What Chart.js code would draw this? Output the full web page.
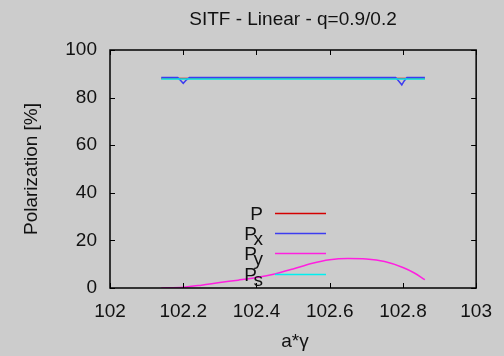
<!DOCTYPE html>
<html>
<head>
<meta charset="utf-8">
<script src="https://cdn.jsdelivr.net/npm/chart.js@4.4.0/dist/chart.umd.min.js"></script>
<style>
  html, body { margin: 0; padding: 0; background: #cccccc; }
  #wrap { width: 504px; height: 356px; }
</style>
</head>
<body>
<div id="wrap"><canvas id="polChart"></canvas></div>
<script>
// values
const xFlat = [102.14, 102.86];
const pTotal = [88.0, 88.0];
const pS = [87.8, 87.8];

const xPx = [102.14, 102.185, 102.193, 102.2, 102.207, 102.217, 102.78, 102.789, 102.797, 102.803, 102.811, 102.86];
const pX = [88.4, 88.4, 87.2, 86.0, 87.2, 88.4, 88.4, 86.9, 85.3, 86.9, 88.4, 88.4];

const xPy = [102.14, 102.2, 102.25, 102.3, 102.35, 102.4, 102.45, 102.5, 102.55, 102.6, 102.65, 102.7, 102.75, 102.8, 102.83, 102.86];
const pY = [0, 0.3, 1.2, 2.3, 3.3, 4.4, 5.9, 8.0, 10.3, 11.9, 12.4, 12.2, 11.1, 8.6, 6.4, 3.5];

const xTicks = [102, 102.2, 102.4, 102.6, 102.8, 103];
const yTicks = [0, 20, 40, 60, 80, 100];

const legendItems = [
    { main: "P", sub: "", color: "#d40000" },
    { main: "P", sub: "x", color: "#3c3cf0" },
    { main: "P", sub: "y", color: "#ff20e0" },
    { main: "P", sub: "s", color: "#00f0f0" }
];

const FONT = '"Liberation Sans", Arial, sans-serif';

function pts(xs, ys) {
    return xs.map(function(x, i) { return { x: x, y: ys[i] }; });
}

// frame, mirrored inner ticks, titles and the gnuplot style key
const decor = {
    id: 'decor',
    afterDraw: function(chart) {
        const ctx = chart.ctx;
        const a = chart.chartArea;
        const xs = chart.scales.x, ys = chart.scales.y;
        ctx.save();
        ctx.strokeStyle = '#000';
        ctx.lineWidth = 1.5;
        ctx.strokeRect(a.left, a.top, a.right - a.left, a.bottom - a.top);
        ctx.lineWidth = 1;
        ctx.beginPath();
        xTicks.forEach(function(v) {
            const px = Math.round(xs.getPixelForValue(v)) + 0.5;
            ctx.moveTo(px, a.bottom); ctx.lineTo(px, a.bottom - 5);
            ctx.moveTo(px, a.top); ctx.lineTo(px, a.top + 5);
        });
        yTicks.forEach(function(v) {
            const py = Math.round(ys.getPixelForValue(v)) + 0.5;
            ctx.moveTo(a.left, py); ctx.lineTo(a.left + 5, py);
            ctx.moveTo(a.right, py); ctx.lineTo(a.right - 5, py);
        });
        ctx.stroke();

        ctx.fillStyle = '#111';
        ctx.textAlign = 'center';
        ctx.textBaseline = 'middle';
        ctx.font = '19px ' + FONT;
        ctx.fillText('SITF - Linear - q=0.9/0.2', 293, 20);
        ctx.fillText('a*\u03B3', 295, 342);
        ctx.save();
        ctx.translate(32, 169);
        ctx.rotate(-Math.PI / 2);
        ctx.fillText('Polarization [%]', 0, 0);
        ctx.restore();

        // key
        const rows = [213, 233, 253, 274];
        ctx.textBaseline = 'alphabetic';
        legendItems.forEach(function(item, i) {
            const y = rows[i];
            ctx.font = '19px ' + FONT;
            ctx.textAlign = 'right';
            if (item.sub) {
                ctx.fillText(item.sub, 263, y + 12);
                ctx.fillText(item.main, 257, y + 7);
            } else {
                ctx.fillText(item.main, 263, y + 7);
            }
            ctx.strokeStyle = item.color;
            ctx.lineWidth = 1.5;
            ctx.beginPath();
            ctx.moveTo(275, y + 0.5);
            ctx.lineTo(326, y + 0.5);
            ctx.stroke();
        });
        ctx.restore();
    }
};

const data = {
    datasets: [
        { label: 'P', data: pts(xFlat, pTotal), borderColor: legendItems[0].color, order: 3 },
        { label: 'Px', data: pts(xPx, pX), borderColor: legendItems[1].color, order: 2 },
        { label: 'Py', data: pts(xPy, pY), borderColor: legendItems[2].color, order: 1,
          cubicInterpolationMode: 'monotone' },
        { label: 'Ps', data: pts(xFlat, pS), borderColor: legendItems[3].color, order: 0 }
    ]
};

const config = {
    type: 'line',
    data: data,
    options: {
        responsive: true,
        maintainAspectRatio: false,
        animation: false,
        layout: { padding: { top: 50, right: 25, left: 0, bottom: 0 } },
        elements: {
            point: { radius: 0 },
            line: { borderWidth: 1.5, fill: false }
        },
        plugins: { legend: { display: false }, tooltip: { enabled: false } },
        scales: {
            x: {
                type: 'linear', min: 102, max: 103,
                grid: { display: false, drawTicks: false },
                border: { display: false },
                afterBuildTicks: function(s) { s.ticks = xTicks.map(function(v) { return { value: v }; }); },
                afterFit: function(s) { s.height = 68; },
                ticks: {
                    color: '#111', padding: 12,
                    font: { family: FONT, size: 19 },
                    callback: function(v) { return String(+v.toFixed(1)); }
                }
            },
            y: {
                min: 0, max: 100,
                grid: { display: false, drawTicks: false },
                border: { display: false },
                afterBuildTicks: function(s) { s.ticks = yTicks.map(function(v) { return { value: v }; }); },
                afterFit: function(s) { s.width = 110; },
                ticks: {
                    color: '#111', padding: 13,
                    font: { family: FONT, size: 19 }
                }
            }
        }
    },
    plugins: [decor]
};

new Chart(document.getElementById('polChart').getContext('2d'), config);
</script>
</body>
</html>
